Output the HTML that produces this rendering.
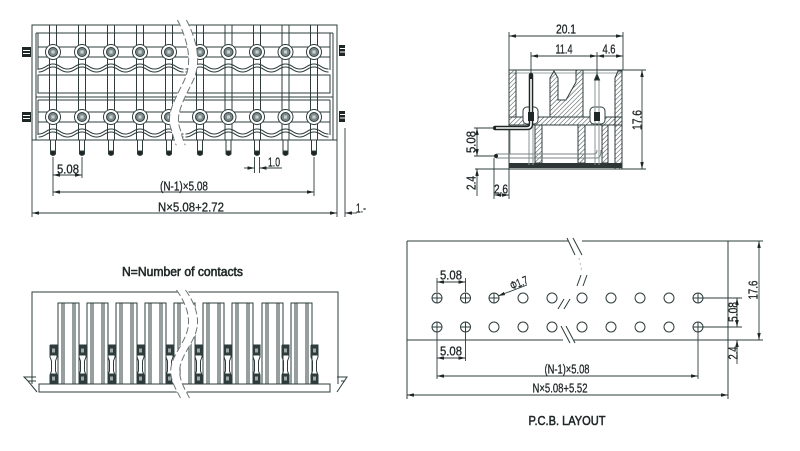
<!DOCTYPE html>
<html><head><meta charset="utf-8"><style>
html,body{margin:0;padding:0;background:#fff;}
svg{display:block;}
text{font-family:"Liberation Sans",sans-serif;fill:#1e2626;stroke:#1e2626;stroke-width:0.3;}
</style></head><body>
<svg width="800" height="451" viewBox="0 0 800 451" xmlns="http://www.w3.org/2000/svg">
<defs>
<marker id="ar" viewBox="0 0 8 4" refX="8" refY="2" markerWidth="7" markerHeight="3.5" markerUnits="userSpaceOnUse" orient="auto-start-reverse"><path d="M0,0 L8,2 L0,4z" fill="#1e2626"/></marker>
<pattern id="h" width="3.2" height="3.2" patternUnits="userSpaceOnUse" patternTransform="rotate(45)"><line x1="0" y1="0" x2="0" y2="3.2" stroke="#3a4545" stroke-width="1"/></pattern>
<g id="fc" stroke="#2e3c3c" fill="none" stroke-width="1">
 <line x1="-3.5" y1="25" x2="-3.5" y2="140"/>
 <line x1="3.5" y1="25" x2="3.5" y2="140"/>
 <path d="M-14.5,69 C-7,69 -7,64 0,64 C7,64 7,69 14.5,69"/>
 <path d="M-14.5,72 C-7,72 -7,67 0,67 C7,67 7,72 14.5,72"/>
 <path d="M-14.5,134 C-7,134 -7,129 0,129 C7,129 7,134 14.5,134"/>
 <path d="M-14.5,137 C-7,137 -7,132 0,132 C7,132 7,137 14.5,137"/>
 <circle cx="0" cy="52" r="7.5" fill="#fff"/>
 <circle cx="0" cy="52" r="4.5" fill="#7c8888"/>
 <rect x="-1.6" y="50.4" width="3.2" height="3.2" fill="#c8d0d0" stroke="none"/>
 <circle cx="0" cy="117" r="7.5" fill="#fff"/>
 <circle cx="0" cy="117" r="4.5" fill="#7c8888"/>
 <rect x="-1.6" y="115.4" width="3.2" height="3.2" fill="#c8d0d0" stroke="none"/>
 <rect x="-2.5" y="140" width="5" height="12" fill="#fff"/>
 <path d="M-2.5,151 L-2.5,154 Q0,157 2.5,154 L2.5,151z" fill="#1e2626"/>
</g>
<g id="bc" stroke="#2e3c3c" fill="none" stroke-width="1">
 <rect x="0" y="303" width="21" height="81" fill="#fff"/>
 <line x1="4" y1="303" x2="4" y2="384"/>
 <line x1="6" y1="303" x2="6" y2="384"/>
 <line x1="15" y1="303" x2="15" y2="384"/>
 <line x1="17" y1="303" x2="17" y2="384"/>
</g>
<g id="cl" stroke="#2e3c3c" fill="none" stroke-width="1">
 <path d="M0,345 h7 v12 l-1.5,4 v10 l1.5,4 v9 M0,345 v12 l1.5,4 v10 l-1.5,4 v9"/>
 <rect x="0.5" y="346" width="6" height="9" fill="#2e3c3c"/>
 <rect x="2" y="348.5" width="3" height="4" fill="#a0aaaa" stroke="none"/>
 <rect x="0.5" y="374" width="6" height="9" fill="#2e3c3c"/>
 <rect x="2" y="376.5" width="3" height="4" fill="#a0aaaa" stroke="none"/>
</g>
<g id="hc" stroke="#2e3c3c" fill="none" stroke-width="1"><circle r="5"/><line x1="-5" y1="0" x2="5" y2="0"/><line x1="0" y1="-5" x2="0" y2="5"/></g>
<g id="ho" stroke="#2e3c3c" fill="none" stroke-width="1"><circle r="5"/></g>
</defs>

<!-- ================= FRONT VIEW ================= -->
<g stroke="#2e3c3c" fill="none" stroke-width="1">
 <rect x="32" y="25" width="305" height="115" fill="#fff"/>
 <line x1="36" y1="33" x2="36" y2="140"/>
 <line x1="38" y1="33" x2="38" y2="70"/>
 <line x1="36" y1="33" x2="333" y2="33"/>
 <line x1="333" y1="33" x2="333" y2="140"/>
 <line x1="330" y1="33" x2="330" y2="70"/>
 <line x1="38" y1="47" x2="330" y2="47"/>
 <line x1="38" y1="57" x2="330" y2="57"/>
 <rect x="38" y="75" width="292" height="18"/>
 <line x1="36" y1="97" x2="333" y2="97"/>
 <line x1="38" y1="100" x2="330" y2="100"/>
 <line x1="38" y1="100" x2="38" y2="135"/>
 <line x1="330" y1="100" x2="330" y2="135"/>
 <line x1="38" y1="112" x2="330" y2="112"/>
 <line x1="38" y1="122" x2="330" y2="122"/>
</g>
<use href="#fc" x="53"/><use href="#fc" x="82"/><use href="#fc" x="111"/><use href="#fc" x="140"/><use href="#fc" x="169"/>
<use href="#fc" x="200"/><use href="#fc" x="228.5"/><use href="#fc" x="257"/><use href="#fc" x="285.5"/><use href="#fc" x="314"/>
<path d="M182,20 C192,40 198,62 188,82 C178,102 170,116 176,130 C178,138 180,145 181,160" stroke="#fff" stroke-width="9" fill="none"/>
<path d="M177.5,20 C187.5,40 193.5,62 183.5,82 C173.5,102 165.5,116 171.5,130 C173.5,138 175.5,145 176.5,145" stroke="#6a7575" stroke-width="1" stroke-dasharray="7 3" fill="none"/>
<path d="M186.5,20 C196.5,40 202.5,62 192.5,82 C182.5,102 174.5,116 180.5,130 C182.5,138 184.5,145 185.5,145" stroke="#6a7575" stroke-width="1" stroke-dasharray="7 3" fill="none"/>
<g fill="#1e2626">
 <rect x="22" y="47" width="9" height="10"/><rect x="22" y="112" width="9" height="10"/>
 <rect x="339" y="45" width="6" height="11"/><rect x="339" y="111" width="6" height="11"/>
</g>
<g stroke="#fff" stroke-width="1">
 <line x1="23" y1="50.5" x2="30" y2="50.5"/><line x1="23" y1="53.5" x2="30" y2="53.5"/>
 <line x1="23" y1="115.5" x2="30" y2="115.5"/><line x1="23" y1="118.5" x2="30" y2="118.5"/>
 <line x1="340" y1="48.5" x2="345" y2="48.5"/><line x1="340" y1="52" x2="345" y2="52"/>
 <line x1="340" y1="114.5" x2="345" y2="114.5"/><line x1="340" y1="118" x2="345" y2="118"/>
</g>
<g stroke="#2e3c3c" stroke-width="0.9" fill="none">
 <line x1="53" y1="157" x2="53" y2="196"/>
 <line x1="82" y1="157" x2="82" y2="178"/>
 <line x1="53" y1="175" x2="82" y2="175" marker-start="url(#ar)" marker-end="url(#ar)"/>
 <line x1="314" y1="157" x2="314" y2="196"/>
 <line x1="53" y1="192" x2="314" y2="192" marker-start="url(#ar)" marker-end="url(#ar)"/>
 <line x1="32" y1="140" x2="32" y2="217"/>
 <line x1="337" y1="140" x2="337" y2="217"/>
 <line x1="32" y1="213" x2="337" y2="213" marker-start="url(#ar)" marker-end="url(#ar)"/>
 <line x1="345" y1="128" x2="345" y2="217"/>
 <line x1="357" y1="213" x2="345" y2="213" marker-end="url(#ar)"/>
 <line x1="254.5" y1="157" x2="254.5" y2="173"/>
 <line x1="259.5" y1="157" x2="259.5" y2="173"/>
 <line x1="244" y1="168" x2="254.5" y2="168" marker-end="url(#ar)"/>
 <line x1="282" y1="168" x2="259.5" y2="168" marker-end="url(#ar)"/>
</g>
<text x="68" y="173.5" font-size="12.5" text-anchor="middle" textLength="22" lengthAdjust="spacingAndGlyphs">5.08</text>
<text x="184" y="190.5" font-size="12.5" text-anchor="middle" textLength="48" lengthAdjust="spacingAndGlyphs">(N-1)×5.08</text>
<text x="191" y="211.5" font-size="12.5" text-anchor="middle" textLength="66" lengthAdjust="spacingAndGlyphs">N×5.08+2.72</text>
<text x="274" y="166.5" font-size="12.5" text-anchor="middle" textLength="12" lengthAdjust="spacingAndGlyphs">1.0</text>
<text x="356" y="212.5" font-size="12.5" textLength="10" lengthAdjust="spacingAndGlyphs">1.-</text>

<!-- ================= SIDE VIEW ================= -->
<g stroke="#2e3c3c" stroke-width="1" fill="none">
 <rect x="509" y="70" width="113" height="99" fill="#fff"/>
 <line x1="509" y1="73" x2="622" y2="73" stroke="#9aa4a4"/>
 <polygon points="509,70 516,70 516,117 509,117" fill="url(#h)"/>
 <polygon points="509,117 622,117 622,125 509,125" fill="url(#h)"/>
 <polygon points="550,78 554,71 558,78 558,100 566,100 576,82 576,70 583,70 583,117 550,117" fill="url(#h)"/>
 <polygon points="615,78 618,71 622,71 622,169 615,169" fill="url(#h)"/>
 <rect x="535" y="125" width="7" height="38" fill="url(#h)"/>
 <rect x="578" y="125" width="7" height="38" fill="url(#h)"/>
 <rect x="602" y="125" width="6" height="38" fill="url(#h)"/>
 <rect x="523" y="107" width="15" height="17" rx="4" fill="#fff"/>
 <rect x="590" y="107" width="15" height="17" rx="4" fill="#fff"/>
 <rect x="509" y="163" width="113" height="5" fill="#2e3636" stroke="none"/>
 <line x1="529" y1="125" x2="529" y2="165" stroke="#8a9494"/>
 <line x1="533" y1="125" x2="533" y2="165" stroke="#8a9494"/>
 <line x1="595" y1="78" x2="595" y2="165" stroke="#8a9494"/>
 <line x1="599" y1="78" x2="599" y2="165" stroke="#8a9494"/>
 <path d="M594.5,80 L597,74 L599.5,80z" fill="#1e2626"/>
 <line x1="510" y1="130" x2="510" y2="154" stroke="#8a9494"/>
 <path d="M496,154 L594,154 Q597,154 597,150" stroke="#7a8585"/>
 <path d="M496,158 L597,158 Q601,158 601,150" stroke="#7a8585"/>
 <circle cx="496" cy="156" r="2" fill="#1e2626" stroke="none"/>
</g>
<path d="M495,128 L527,128 Q531,128 531,124 L531,78 L531,75" stroke="#1e2626" stroke-width="4.5" fill="none" stroke-linecap="round"/>
<path d="M496,128 L527,128 Q531,128 531,124 L531,79" stroke="#fff" stroke-width="1.6" fill="none"/>
<rect x="528" y="112" width="6" height="9" fill="#1e2626"/>
<rect x="594" y="112" width="6" height="9" fill="#1e2626"/>
<g stroke="#2e3c3c" stroke-width="0.9" fill="none">
 <line x1="509" y1="32" x2="509" y2="70"/>
 <line x1="623" y1="32" x2="623" y2="70"/>
 <line x1="509" y1="36" x2="623" y2="36" marker-start="url(#ar)" marker-end="url(#ar)"/>
 <line x1="531" y1="52" x2="531" y2="74"/>
 <line x1="597" y1="52" x2="597" y2="74"/>
 <line x1="531" y1="56" x2="597" y2="56" marker-start="url(#ar)" marker-end="url(#ar)"/>
 <line x1="597" y1="56" x2="623" y2="56" marker-start="url(#ar)" marker-end="url(#ar)"/>
 <line x1="622" y1="70" x2="646" y2="70"/>
 <line x1="475" y1="169" x2="646" y2="169"/>
 <line x1="642" y1="70" x2="642" y2="169" marker-start="url(#ar)" marker-end="url(#ar)"/>
 <line x1="474" y1="128" x2="494" y2="128"/>
 <line x1="474" y1="156" x2="494" y2="156"/>
 <line x1="477" y1="128" x2="477" y2="156" marker-start="url(#ar)" marker-end="url(#ar)"/>
 <line x1="477" y1="196" x2="477" y2="169" marker-end="url(#ar)"/>
 <line x1="494" y1="158" x2="494" y2="199"/>
 <line x1="509" y1="169" x2="509" y2="199"/>
 <line x1="494" y1="195" x2="509" y2="195" marker-start="url(#ar)" marker-end="url(#ar)"/>
</g>
<text x="566" y="33.5" font-size="12.5" text-anchor="middle" textLength="20" lengthAdjust="spacingAndGlyphs">20.1</text>
<text x="564" y="53.5" font-size="12.5" text-anchor="middle" textLength="17" lengthAdjust="spacingAndGlyphs">11.4</text>
<text x="609" y="53.5" font-size="12.5" text-anchor="middle" textLength="13" lengthAdjust="spacingAndGlyphs">4.6</text>
<text x="637" y="124.5" font-size="12.5" text-anchor="middle" transform="rotate(-90 637 120)" textLength="20" lengthAdjust="spacingAndGlyphs">17.6</text>
<text x="471" y="146.5" font-size="12.5" text-anchor="middle" transform="rotate(-90 471 142)" textLength="22" lengthAdjust="spacingAndGlyphs">5.08</text>
<text x="471" y="187.5" font-size="12.5" text-anchor="middle" transform="rotate(-90 471 183)" textLength="14" lengthAdjust="spacingAndGlyphs">2.4</text>
<text x="501" y="193.5" font-size="12.5" text-anchor="middle" textLength="14" lengthAdjust="spacingAndGlyphs">2.6</text>

<!-- ================= BOTTOM VIEW ================= -->
<text x="122" y="276" font-size="12.5" textLength="121" lengthAdjust="spacingAndGlyphs" style="stroke-width:0.55">N=Number of contacts</text>
<g stroke="#2e3c3c" stroke-width="1" fill="none">
 <path d="M32,384 L32,292 L338,292 L338,384"/>
 <rect x="39" y="384" width="291" height="8" fill="#fff"/>
 <path d="M36,377 L24,377 L28,381 L37,392 M28,381 L36,381"/>
 <path d="M337,377 L347,377 L337,392 M341,381 L345,381"/>
</g>
<use href="#bc" x="58"/><use href="#bc" x="87"/><use href="#bc" x="116"/><use href="#bc" x="145"/><use href="#bc" x="174"/>
<use href="#bc" x="203"/><use href="#bc" x="232"/><use href="#bc" x="262"/><use href="#bc" x="291"/>
<use href="#cl" x="50"/><use href="#cl" x="79"/><use href="#cl" x="108"/><use href="#cl" x="137"/><use href="#cl" x="166"/>
<use href="#cl" x="195"/><use href="#cl" x="224"/><use href="#cl" x="253"/><use href="#cl" x="282"/><use href="#cl" x="311"/>
<path d="M181,288 C191,304 197,320 190,336 C183,352 172,362 176,378 C178,386 182,392 185,398" stroke="#fff" stroke-width="9" fill="none"/>
<path d="M176.5,290 C186.5,304 192.5,320 185.5,336 C178.5,352 167.5,362 171.5,378 C173.5,386 177.5,392 180.5,398" stroke="#6a7575" stroke-width="1" stroke-dasharray="7 3" fill="none"/>
<path d="M185.5,290 C195.5,304 201.5,320 194.5,336 C187.5,352 176.5,362 180.5,378 C182.5,386 186.5,392 189.5,398" stroke="#6a7575" stroke-width="1" stroke-dasharray="7 3" fill="none"/>

<!-- ================= PCB LAYOUT ================= -->
<g stroke="#2e3c3c" stroke-width="1" fill="none">
 <line x1="407" y1="241" x2="568" y2="241"/>
 <line x1="582" y1="241" x2="763" y2="241"/>
 <line x1="407" y1="340" x2="563" y2="340"/>
 <line x1="574" y1="340" x2="763" y2="340"/>
 <line x1="407" y1="241" x2="407" y2="399"/>
 <line x1="728" y1="241" x2="728" y2="399"/>
 <line x1="567" y1="238" x2="575" y2="255"/>
 <line x1="573" y1="238" x2="582" y2="255"/>
 <line x1="577" y1="286" x2="581" y2="275"/>
 <line x1="583" y1="286" x2="587" y2="275"/>
 <line x1="558" y1="309" x2="564" y2="299"/>
 <line x1="564" y1="309" x2="570" y2="299"/>
 <line x1="561" y1="326" x2="570" y2="343"/>
 <line x1="566" y1="326" x2="575" y2="343"/>
 <line x1="579" y1="258" x2="582" y2="272" stroke="#b0b8b8" stroke-dasharray="2 3"/>
</g>
<use href="#hc" x="437" y="298"/><use href="#hc" x="465.5" y="298"/><use href="#hc" x="494" y="298"/>
<use href="#ho" x="523" y="298"/><use href="#ho" x="552" y="298"/><use href="#ho" x="582" y="298"/>
<use href="#ho" x="611" y="298"/><use href="#ho" x="640" y="298"/><use href="#ho" x="669" y="298"/><use href="#hc" x="698" y="298"/>
<use href="#hc" x="437" y="327"/><use href="#hc" x="465.5" y="327"/><use href="#ho" x="494" y="327"/>
<use href="#ho" x="523" y="327"/><use href="#ho" x="552" y="327"/><use href="#ho" x="582" y="327"/>
<use href="#ho" x="611" y="327"/><use href="#ho" x="640" y="327"/><use href="#ho" x="669" y="327"/><use href="#hc" x="698" y="327"/>
<g stroke="#2e3c3c" stroke-width="0.9" fill="none">
 <line x1="437" y1="278" x2="437" y2="292"/>
 <line x1="465.5" y1="278" x2="465.5" y2="292"/>
 <line x1="437" y1="282" x2="465.5" y2="282" marker-start="url(#ar)" marker-end="url(#ar)"/>
 <line x1="527" y1="285" x2="498" y2="296" marker-end="url(#ar)"/>
 <line x1="437" y1="332" x2="437" y2="379"/>
 <line x1="465.5" y1="332" x2="465.5" y2="361"/>
 <line x1="437" y1="358" x2="465.5" y2="358" marker-start="url(#ar)" marker-end="url(#ar)"/>
 <line x1="698" y1="332" x2="698" y2="379"/>
 <line x1="437" y1="376" x2="698" y2="376" marker-start="url(#ar)" marker-end="url(#ar)"/>
 <line x1="407" y1="395" x2="728" y2="395" marker-start="url(#ar)" marker-end="url(#ar)"/>
 <line x1="759" y1="241" x2="759" y2="340" marker-start="url(#ar)" marker-end="url(#ar)"/>
 <line x1="703" y1="298" x2="742" y2="298"/>
 <line x1="703" y1="327" x2="742" y2="327"/>
 <line x1="737" y1="298" x2="737" y2="327" marker-start="url(#ar)" marker-end="url(#ar)"/>
 <line x1="737" y1="364" x2="737" y2="340" marker-end="url(#ar)"/>
</g>
<text x="451" y="279.5" font-size="12.5" text-anchor="middle" textLength="22" lengthAdjust="spacingAndGlyphs">5.08</text>
<text x="519" y="287" font-size="12" text-anchor="middle" transform="rotate(-22 519 283)" textLength="18" lengthAdjust="spacingAndGlyphs">Φ1.7</text>
<text x="451" y="355.5" font-size="12.5" text-anchor="middle" textLength="22" lengthAdjust="spacingAndGlyphs">5.08</text>
<text x="567" y="373.5" font-size="12.5" text-anchor="middle" textLength="45" lengthAdjust="spacingAndGlyphs">(N-1)×5.08</text>
<text x="560" y="392.5" font-size="12.5" text-anchor="middle" textLength="55" lengthAdjust="spacingAndGlyphs">N×5.08+5.52</text>
<text x="753" y="294.5" font-size="12.5" text-anchor="middle" transform="rotate(-90 753 290)" textLength="19" lengthAdjust="spacingAndGlyphs">17.6</text>
<text x="733" y="316.5" font-size="12.5" text-anchor="middle" transform="rotate(-90 733 312)" textLength="20" lengthAdjust="spacingAndGlyphs">5.08</text>
<text x="733" y="357.5" font-size="12.5" text-anchor="middle" transform="rotate(-90 733 353)" textLength="13" lengthAdjust="spacingAndGlyphs">2.4</text>
<text x="567" y="425" font-size="12.5" text-anchor="middle" textLength="77" lengthAdjust="spacingAndGlyphs" style="stroke-width:0.55">P.C.B. LAYOUT</text>
</svg>
</body></html>
